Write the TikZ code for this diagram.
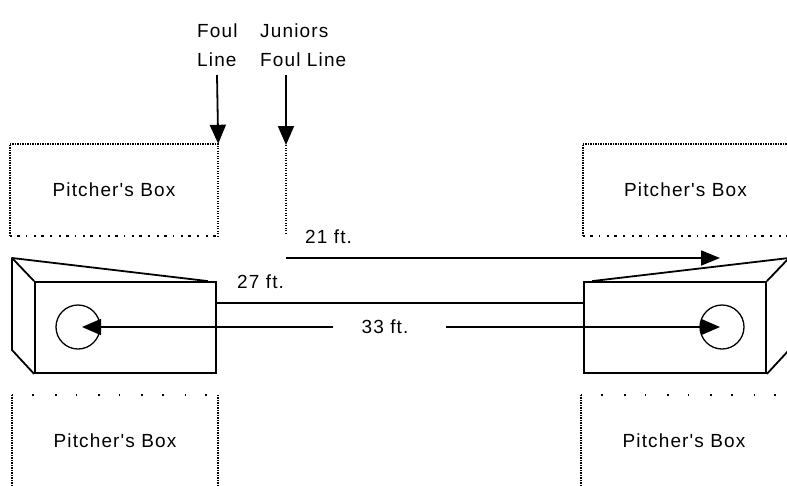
\documentclass[tikz,border=0pt]{standalone}
\usepackage{fontspec}
\newfontfamily\lbl{Liberation Sans}[LetterSpace=6]
\usetikzlibrary{arrows.meta}
\begin{document}
\begin{tikzpicture}[x=1pt,y=-1pt,
  ln/.style={line width=1.8pt},
  arr/.style={line width=1.8pt,-{Triangle[length=19pt,width=16pt]}},
  dense/.style={line width=1.5pt,dash pattern=on 1.3pt off 1.2pt},
  sparse/.style={line width=1.5pt,dash pattern=on 2pt off 5pt on 3pt off 6pt on 1.5pt off 7pt},
  vsparse/.style={line width=1.6pt,dash pattern=on 1.6pt off 19pt on 1.6pt off 21pt},
  pbox/.style={inner sep=0pt,font=\lbl\fontsize{19}{22}\selectfont},
  txt/.style={inner sep=0pt,font=\lbl\fontsize{19}{29}\selectfont},
  face/.style={draw,line width=1.8pt,inner sep=0pt},
  ring/.style={draw,circle,line width=1.3pt,minimum size=44pt,inner sep=0pt}]
\useasboundingbox (0,0) rectangle (787,485);
\clip (0,0) rectangle (787,485);
\fill[white] (0,0) rectangle (787,485);

% pitcher's boxes
\node[pbox,minimum width=208pt,minimum height=92pt] (tl) at (114,190) {Pitcher's Box};
\node[pbox,minimum width=205pt,minimum height=92pt] (tr) at (685.5,190) {Pitcher's Box};
\node[pbox,minimum width=206pt,minimum height=91pt] (bl) at (115,440.5) {Pitcher's Box};
\node[pbox,minimum width=206pt,minimum height=91pt] (br) at (684,440.5) {Pitcher's Box};

\draw[dense] (tl.south west) -- (tl.north west) -- (tl.north east) -- (tl.south east);
\draw[sparse] (tl.south west) -- (tl.south east);
\draw[dense] (tr.south west) -- (tr.north west) -- (tr.north east);
\draw[sparse] (tr.south west) -- (tr.south east);
\draw[dense] (bl.south west) -- (bl.north west);
\draw[dense] (bl.north east) -- (bl.south east);
\draw[vsparse] (bl.north west) -- (bl.north east);
\draw[dense] (br.south west) -- (br.north west);
\draw[vsparse] (br.north west) -- (br.north east);

% top labels
\node[txt,anchor=north west,align=left] (foul) at (197,24) {Foul\\Line};
\node[txt,anchor=north west,align=left] (jun) at (260,24) {Juniors\\Foul Line};
\coordinate (f1) at (217,75);
\coordinate (j1) at (286,75);
\coordinate (jtop) at (286,145);
\coordinate (jlow) at (286,233);
\coordinate (jbot) at (286,258);
\coordinate (tip21) at (720,258);
\draw[arr] (f1) -- (tl.north east);
\draw[arr] (j1) -- (jtop);
\draw[dense] (jtop) -- (jlow);
\draw[ln,-{Triangle[length=19pt,width=15pt]}] (jbot) -- (tip21);
\node[txt,anchor=base west] (t21) at (305,243) {21 ft.};

% platforms
\node[face,minimum width=181pt,minimum height=91pt] (lface) at (125.5,327.5) {};
\node[face,minimum width=182pt,minimum height=91pt] (rface) at (675,327.5) {};
\coordinate (lb1) at (12,258);
\coordinate (lb2) at (12,350);
\coordinate (rb1) at (789,258);
\coordinate (rb2) at (789,350);
\draw[ln,line join=round] (lface.north west) -- (lb1) -- (lb2) -- (lface.south west);
\draw[ln] (lb1) -- ([xshift=-9pt]lface.north east);
\draw[ln,line join=round] (rface.north east) -- (rb1) -- (rb2) -- (rface.south east);
\draw[ln] (rb1) -- ([xshift=9pt]rface.north west);

\node[ring] (lc) at (78,327) {};
\node[ring] (rc) at (722,327) {};

% 27 ft
\draw[ln] ([yshift=24.5pt]lface.east) -- ([yshift=24.5pt]rface.west);
\node[txt,anchor=base west] (t27) at (237,288) {27 ft.};

% 33 ft
\node[txt,anchor=base] (t33) at (385,333) {33 ft.};
\coordinate (a33l) at (333,327);
\coordinate (a33r) at (446,327);
\draw[arr,shorten >=4pt] (a33l) -- (lc.center);
\draw[arr,shorten >=2pt] (a33r) -- (rc.center);
\end{tikzpicture}
\end{document}
